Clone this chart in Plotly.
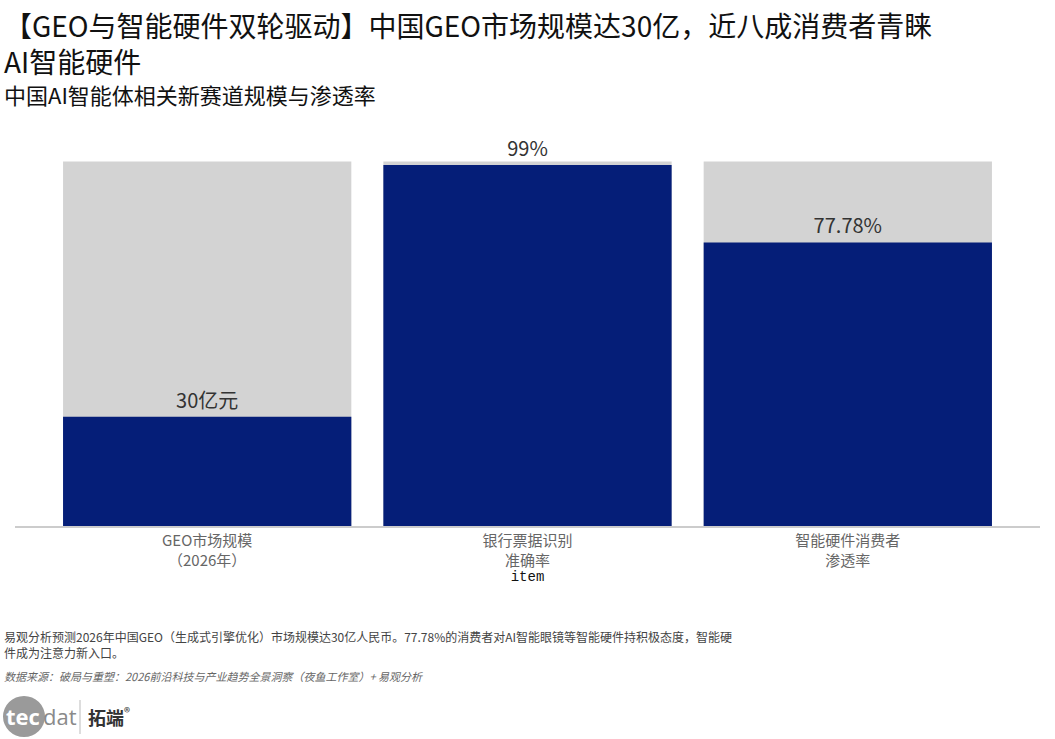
import plotly.graph_objects as go

# ---- data ----
categories = ["GEO市场规模<br>（2026年）", "银行票据识别<br>准确率", "智能硬件消费者<br>渗透率"]
values = [30, 99, 77.78]
full_scale = [100, 100, 100]
value_labels = ["30亿元", "99%", "77.78%"]

title_text = "【GEO与智能硬件双轮驱动】中国GEO市场规模达30亿，近八成消费者青睐<br>AI智能硬件"
subtitle_text = "中国AI智能体相关新赛道规模与渗透率"
note_text = ("易观分析预测2026年中国GEO（生成式引擎优化）市场规模达30亿人民币。77.78%的消费者对AI智能眼镜等智能硬件持积极态度，智能硬"
             "<br>件成为注意力新入口。")
source_text = "数据来源：破局与重塑：2026前沿科技与产业趋势全景洞察（夜鱼工作室）+ 易观分析"

FONT = "Noto Sans CJK SC"
W, H = 1055, 739
ML, MR, MT, MB = 15, 15, 125, 213
PW = W - ML - MR
PH = H - MT - MB


def px(x):
    return (x - ML) / PW


def py(y):
    return (H - MB - y) / PH


fig = go.Figure()
fig.add_trace(go.Bar(
    x=categories, y=full_scale, marker_color="#d3d3d3", marker_line_width=0,
    hoverinfo="skip", showlegend=False,
))
fig.add_trace(go.Bar(
    x=categories, y=values, marker_color="#051e78", marker_line_width=0,
    text=value_labels, textposition="outside",
    textfont=dict(family=FONT, size=20, color="#333333"),
    cliponaxis=False, showlegend=False,
))

fig.update_layout(
    width=W, height=H,
    barmode="overlay", bargap=0.1,
    plot_bgcolor="white", paper_bgcolor="white",
    margin=dict(l=ML, r=MR, t=MT, b=MB, autoexpand=False),
    font=dict(family=FONT),
    xaxis=dict(range=[-0.6, 2.6], showline=True, linecolor="#cccccc", linewidth=2,
               ticks="", tickfont=dict(family=FONT, size=15, color="#666666"),
               title=dict(text="item", standoff=3,
                          font=dict(family="Liberation Mono", size=14, color="#111111"))),
    yaxis=dict(range=[0, 110], visible=False, showgrid=False, zeroline=False),
)

annotations = [
    dict(text=title_text, x=px(2), y=py(3), xanchor="left", yanchor="top", align="left",
         font=dict(family=FONT, size=28, color="#111111")),
    dict(text=subtitle_text, x=px(2), y=py(94), xanchor="left", yanchor="middle",
         font=dict(family=FONT, size=22, color="#111111")),
    dict(text=note_text, x=px(2), y=py(626), xanchor="left", yanchor="top", align="left",
         font=dict(family=FONT, size=12, color="#444444")),
    dict(text="<i>" + source_text + "</i>", x=px(2), y=py(676), xanchor="left", yanchor="middle",
         font=dict(family=FONT, size=11, color="#666666")),
    dict(text="<b>tec</b>", x=px(4), y=py(716), xanchor="left", yanchor="middle",
         font=dict(family="Open Sans", size=22, color="white")),
    dict(text="dat", x=px(41), y=py(716), xanchor="left", yanchor="middle",
         font=dict(family="Open Sans", size=22, color="#8a8a8a")),
    dict(text="<b>拓端</b><sup>®</sup>", x=px(86), y=py(716), xanchor="left", yanchor="middle",
         font=dict(family=FONT, size=18, color="#333333")),
]
for a in annotations:
    a.update(xref="paper", yref="paper", showarrow=False)
fig.update_layout(annotations=annotations)

fig.add_shape(type="circle", xref="paper", yref="paper",
              x0=px(3), x1=px(45), y0=py(737), y1=py(696),
              fillcolor="#9a9a9a", line_width=0, layer="below")
fig.add_shape(type="line", xref="paper", yref="paper",
              x0=px(80), x1=px(80), y0=py(700), y1=py(734),
              line=dict(color="#bbbbbb", width=1))

fig.write_html("out.html")
